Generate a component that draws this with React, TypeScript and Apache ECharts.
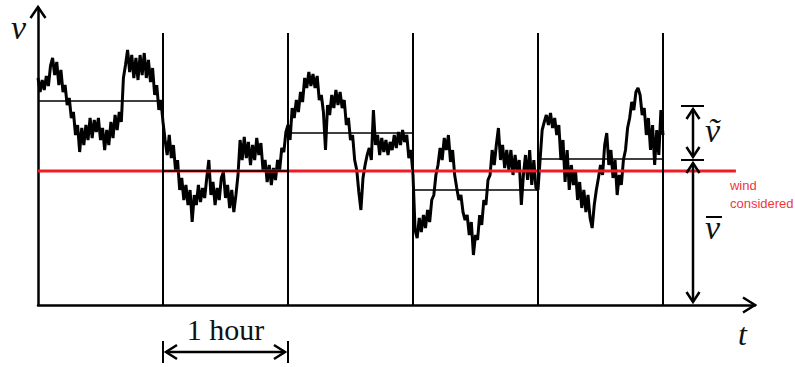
import React, { useEffect, useRef } from "react";
import * as echarts from "echarts";

// ---- data (time in minutes, speed in arbitrary units) ----
const SAMPLE_STEP_MIN = 1;
const windSpeed: number[] = [
  // hour 1
  227, 213, 225, 215, 229, 219, 239, 247, 230, 243, 220, 235, 213, 220, 200, 207, 187, 193, 170, 180,
  153, 177, 160, 180, 165, 187, 167, 185, 173, 187, 165, 177, 155, 175, 160, 183, 167, 190, 175, 193,
  183, 227, 240, 255, 233, 250, 227, 247, 225, 250, 230, 252, 227, 245, 223, 237, 210, 220, 195, 205, 183,
  // hour 2
  165, 150, 170, 147, 160, 135, 145, 115, 127, 105, 120, 100, 115, 83, 110, 100, 120, 103, 117, 107,
  127, 145, 110, 123, 100, 117, 105, 127, 133, 107, 120, 97, 115, 93, 110, 130, 165, 145, 168, 147,
  163, 140, 160, 145, 167, 150, 162, 135, 145, 123, 140, 120, 137, 125, 145, 135, 157, 153, 173, 180,
  // hour 3
  165, 197, 187, 205, 193, 213, 203, 227, 217, 233, 219, 231, 217, 229, 205, 210, 193, 155, 200, 190,
  210, 197, 215, 200, 213, 197, 205, 180, 187, 165, 170, 145, 135, 113, 95, 127, 140, 150, 157, 145,
  195, 160, 170, 150, 167, 153, 165, 150, 163, 155, 170, 157, 173, 160, 175, 163, 170, 147, 155, 130,
  // hour 4
  75, 67, 87, 73, 90, 77, 95, 83, 105, 110, 130, 140, 157, 145, 167, 155, 170, 143, 155, 130,
  117, 105, 110, 93, 85, 90, 70, 83, 50, 70, 65, 90, 80, 105, 100, 125, 130, 155, 140, 160,
  177, 145, 160, 137, 155, 135, 155, 130, 150, 133, 145, 100, 130, 150, 125, 155, 120, 145, 117, 115,
  // hour 5
  145, 175, 183, 190, 180, 192, 177, 187, 170, 180, 145, 165, 123, 155, 115, 140, 120, 135, 105, 123,
  97, 115, 93, 110, 87, 77, 100, 115, 127, 140, 130, 160, 172, 140, 155, 127, 145, 110, 130, 120,
  145, 155, 177, 187, 203, 195, 213, 217, 210, 190, 197, 170, 187, 155, 180, 140, 175, 150, 195, 170,
];
const hourStarts = [0, 60, 120, 180, 240];
const hourBoundaries = [60, 120, 180, 240, 300];
const hourlyMeans = [204, 134, 172, 115, 146];
const consideredWind = 134;
const consideredWindEnd = 335;
const boundaryTop = 272;
const X_MAX = 344.16;
const Y_MAX = 297;
// annotation on the right
const annotationTime = 314.4;
const fluctuationTop = 199;
const fluctuationBase = 145;

const AXIS_Y_LABEL = "v";
const AXIS_X_LABEL = "t";
const HOUR_LABEL = "1 hour";
const FLUCT_LABEL = "\u1E7D";
const MEAN_LABEL = "v";
const WIND_LABEL = "wind\nconsidered";

const SERIF = "'Liberation Serif', 'DejaVu Serif', serif";

export default function App() {
  const ref = useRef<HTMLDivElement>(null);
  useEffect(() => {
    if (!ref.current) return;
    const chart = echarts.init(ref.current, undefined, { renderer: "svg" });
    const signal = windSpeed.map((v, i) => [i * SAMPLE_STEP_MIN, v]);
    const meanLines = hourlyMeans.map((m, i) => [
      { coord: [hourStarts[i], m] },
      { coord: [hourStarts[i] + 60, m] },
    ]);
    const boundaryLines = hourBoundaries.map((b) => [
      { coord: [b, 0] },
      { coord: [b, boundaryTop] },
    ]);
    const axisCommon = {
      type: "value" as const,
      axisLine: { show: true, onZero: false, lineStyle: { color: "#000", width: 2.5 } },
      axisTick: { show: false },
      axisLabel: { show: false },
      splitLine: { show: false },
    };
    chart.setOption({
      animation: false,
      grid: { left: 38, right: 40, top: 8, bottom: 62 },
      xAxis: { ...axisCommon, min: 0, max: X_MAX },
      yAxis: { ...axisCommon, min: 0, max: Y_MAX },
      series: [
        {
          type: "line",
          data: [],
          silent: true,
          z: 1,
          markLine: {
            silent: true,
            symbol: ["none", "none"],
            label: { show: false },
            emphasis: { disabled: true },
            lineStyle: { color: "#000", width: 2, type: "solid" },
            data: boundaryLines,
          },
        },
        {
          type: "line",
          data: [],
          silent: true,
          z: 2,
          markLine: {
            silent: true,
            symbol: ["none", "none"],
            label: { show: false },
            emphasis: { disabled: true },
            lineStyle: { color: "#000", width: 1.5, type: "solid" },
            data: meanLines,
          },
        },
        {
          type: "line",
          data: signal,
          showSymbol: false,
          silent: true,
          z: 3,
          lineStyle: { color: "#000", width: 3 },
        },
        {
          type: "line",
          data: [
            [0, consideredWind],
            [consideredWindEnd, consideredWind],
          ],
          showSymbol: false,
          silent: true,
          z: 4,
          lineStyle: { color: "#ee1c25", width: 3 },
        },
      ],
    });

    const px = (x: number, y: number) => chart.convertToPixel({ gridIndex: 0 }, [x, y]) as number[];
    const stroke = { stroke: "#000", lineWidth: 2.5, fill: "none" };
    const chevron = (tx: number, ty: number, dir: string, len = 10, half = 6.5) => {
      let pts: number[][] = [];
      if (dir === "up") pts = [[tx - half, ty + len], [tx, ty], [tx + half, ty + len]];
      if (dir === "down") pts = [[tx - half, ty - len], [tx, ty], [tx + half, ty - len]];
      if (dir === "left") pts = [[tx + len, ty - half], [tx, ty], [tx + len, ty + half]];
      if (dir === "right") pts = [[tx - len, ty - half], [tx, ty], [tx - len, ty + half]];
      return { type: "polyline", shape: { points: pts }, style: { ...stroke }, z: 100 };
    };
    const line = (x1: number, y1: number, x2: number, y2: number, w = 2.5) => ({
      type: "line",
      shape: { x1, y1, x2, y2 },
      style: { stroke: "#000", lineWidth: w },
      z: 100,
    });
    const text = (t: string, x: number, y: number, font: any, align = "left") => ({
      type: "text",
      x,
      y,
      z: 100,
      style: { text: t, align, verticalAlign: "middle", fill: "#111", ...font },
    });

    const [ox, oy] = px(0, 0);
    const [, yTop] = px(0, Y_MAX);
    const [xEnd] = px(X_MAX, 0);
    const [h1x] = px(60, 0);
    const [h2x] = px(120, 0);
    const [ax, fTopY] = px(annotationTime, fluctuationTop);
    const [, fBaseY] = px(annotationTime, fluctuationBase);
    const [redEndX, redY] = px(consideredWindEnd, consideredWind);
    const hourArrowY = oy + 47;

    const graphic: any[] = [
      chevron(ox, yTop - 1, "up", 11, 7.5),
      chevron(xEnd, oy, "right", 12, 7.5),
      text(AXIS_Y_LABEL, 11, 27, { font: `italic 34px ${SERIF}` }),
      text(AXIS_X_LABEL, 738, 334, { font: `italic 32px ${SERIF}` }),
      // 1 hour
      text(HOUR_LABEL, (h1x + h2x) / 2, 329, { font: `30px ${SERIF}` }, "center"),
      line(h1x, hourArrowY - 11, h1x, hourArrowY + 11, 2),
      line(h2x, hourArrowY - 11, h2x, hourArrowY + 11, 2),
      line(h1x + 3, hourArrowY, h2x - 3, hourArrowY),
      chevron(h1x + 3, hourArrowY, "left", 11, 7),
      chevron(h2x - 3, hourArrowY, "right", 11, 7),
      // fluctuation arrow
      line(ax - 12, fTopY, ax + 11, fTopY, 2),
      line(ax - 12, fBaseY, ax + 11, fBaseY, 2),
      line(ax, fTopY + 3, ax, fBaseY - 3),
      chevron(ax, fTopY + 3, "up", 10, 6.5),
      chevron(ax, fBaseY - 3, "down", 10, 6.5),
      // mean arrow
      line(ax, fBaseY + 3, ax, oy - 3),
      chevron(ax, fBaseY + 3, "up", 10, 6.5),
      chevron(ax, oy - 3, "down", 10, 6.5),
      text(FLUCT_LABEL, ax + 12, 130, { font: `italic 34px ${SERIF}` }),
      text(MEAN_LABEL, ax + 12, 227, { font: `italic 34px ${SERIF}` }),
      line(ax + 13, 217, ax + 29, 217, 2),
      {
        type: "text",
        x: redEndX - 6,
        y: redY + 5,
        z: 100,
        style: {
          text: WIND_LABEL,
          fill: "#f2363b",
          font: "13px 'Liberation Sans', Arial, sans-serif",
          lineHeight: 18,
          verticalAlign: "top",
        },
      },
    ];
    chart.setOption({ graphic });
    return () => chart.dispose();
  }, []);
  return (
    <div
      ref={ref}
      style={{ position: "fixed", left: 0, top: 0, width: 795, height: 367, background: "#fff" }}
    />
  );
}
